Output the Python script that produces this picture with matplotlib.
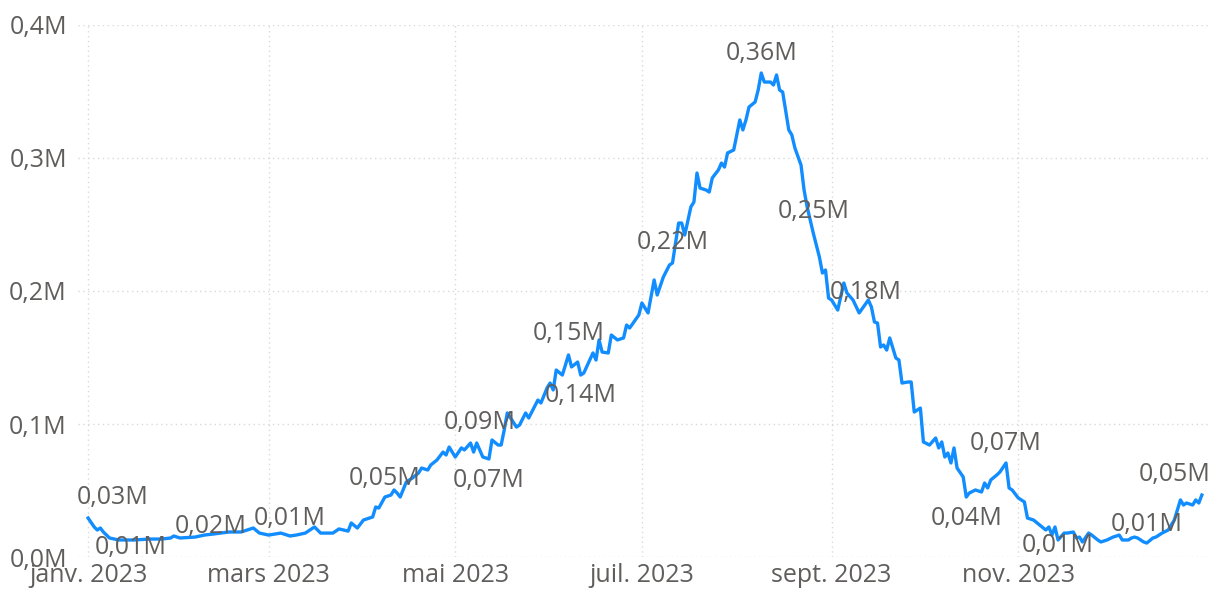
import datetime as dt
import matplotlib
matplotlib.use('Agg')
import matplotlib.pyplot as plt
import matplotlib.dates as mdates

plt.rcParams['font.family'] = ['Open Sans', 'DejaVu Sans']

# days since 1 Jan 2023, values in thousands
day = [0, 2, 3, 4, 5, 7, 10, 15, 20, 24, 27, 28, 30, 35, 38, 41, 46, 50, 54, 56,
       59, 63, 66, 68, 71, 74, 76, 80, 82, 85, 86, 88, 90, 93, 94, 95, 97, 99, 100, 101,
       102, 104, 106, 108, 109, 111, 112, 114, 116, 117, 118, 120, 122, 123, 125, 126, 127, 129, 131, 132,
       134, 135, 136, 137, 140, 141, 143, 144, 147, 148, 150, 151, 152, 153, 155, 157, 158, 160, 161, 162,
       165, 166, 167, 168, 170, 171, 173, 175, 176, 177, 180, 181, 183, 185, 186, 188, 190, 191, 192, 193,
       194, 195, 197, 198, 199, 200, 202, 203, 204, 206, 207, 208, 209, 211, 213, 214, 215, 216, 218, 219,
       220, 221, 223, 224, 225, 226, 227, 229, 230, 231, 233, 234, 235, 237, 239, 240, 241, 242, 243, 245,
       247, 248, 250, 252, 255, 256, 257, 258, 259, 260, 261, 262, 264, 265, 266, 268, 269, 270, 272, 273,
       275, 277, 278, 279, 280, 281, 282, 283, 284, 286, 287, 288, 290, 292, 293, 294, 295, 297, 298, 300,
       301, 302, 304, 306, 307, 309, 311, 313, 314, 315, 316, 317, 319, 320, 322, 323, 324, 325, 327, 328,
       330, 331, 333, 335, 337, 338, 340, 341, 342, 343, 345, 346, 348, 349, 350, 351, 353, 355, 357, 358,
       359, 361, 362, 363, 364]
value_k = [29.3, 22.6, 20.3, 21.8, 18.8, 14.3, 12.8, 12.8, 13.5, 13.5, 14.3, 15.8, 14.3, 15.0, 16.5, 17.3, 18.8, 18.8, 21.8, 18.0,
           16.5, 18.0, 15.8, 16.5, 18.0, 22.6, 18.0, 18.0, 21.1, 19.5, 25.6, 21.8, 27.8, 30.1, 37.6, 36.8, 45.1, 46.6, 50.4, 48.1,
           45.1, 56.4, 59.4, 63.2, 66.9, 65.4, 69.2, 72.9, 78.9, 76.7, 82.7, 75.2, 82.0, 80.5, 85.7, 78.9, 85.7, 75.2, 73.7, 88.0,
           84.2, 84.2, 95.5, 108.3, 97.7, 99.2, 108.3, 104.5, 118.0, 115.8, 127.1, 130.8, 125.6, 140.6, 136.8, 151.9, 142.9, 146.6, 136.8, 138.3,
           153.4, 148.1, 163.2, 154.1, 153.4, 166.9, 163.2, 164.7, 174.4, 172.2, 182.0, 191.0, 183.5, 208.3, 197.0, 210.5, 219.5, 221.1, 236.1, 251.1,
           251.1, 242.1, 263.2, 266.9, 288.7, 277.4, 275.9, 274.4, 285.0, 291.0, 296.2, 293.2, 303.8, 306.0, 328.6, 321.1, 328.6, 338.3, 342.1, 351.1,
           363.9, 357.1, 357.1, 354.9, 362.4, 351.1, 349.6, 321.1, 317.3, 307.5, 294.7, 275.9, 263.2, 243.6, 225.6, 213.5, 215.8, 194.7, 193.2, 185.7,
           206.0, 198.5, 193.2, 183.5, 193.2, 188.0, 176.7, 175.9, 157.9, 159.4, 155.6, 164.7, 149.6, 148.1, 130.8, 131.6, 131.6, 109.0, 112.0, 86.5,
           84.2, 89.5, 82.0, 86.5, 75.2, 78.2, 70.7, 82.0, 66.9, 60.2, 45.1, 48.1, 50.4, 48.9, 55.6, 51.9, 57.9, 61.7, 63.9, 70.7,
           51.9, 50.4, 44.4, 41.4, 29.3, 27.8, 24.1, 20.3, 22.6, 16.5, 22.6, 12.8, 18.0, 18.0, 18.8, 14.3, 15.0, 11.3, 18.0, 16.5,
           12.8, 11.3, 12.8, 15.0, 16.5, 12.8, 12.8, 14.3, 15.0, 14.3, 11.3, 10.5, 14.3, 15.0, 16.5, 18.0, 20.3, 27.8, 42.9, 39.1,
           40.6, 39.1, 42.9, 40.6, 46.6]

# data labels: text, day, height (M) where the label sits
label_text = ['0,03M', '0,01M', '0,02M', '0,01M', '0,05M', '0,09M', '0,07M', '0,15M', '0,14M',
              '0,22M', '0,36M', '0,25M', '0,18M', '0,07M', '0,04M', '0,01M', '0,01M', '0,05M']
label_day = [8, 14, 40, 66, 97, 128, 131, 157, 161, 191, 220, 237, 254, 300, 287, 317, 346, 355]
label_val = [0.0451, 0.0068, 0.0226, 0.0286, 0.0594, 0.1008, 0.0579, 0.1684, 0.1211,
             0.2361, 0.3789, 0.2594, 0.1992, 0.0857, 0.0286, 0.0090, 0.0248, 0.0617]

tick_months = [1, 3, 5, 7, 9, 11]
tick_labels = ['janv. 2023', 'mars 2023', 'mai 2023', 'juil. 2023', 'sept. 2023', 'nov. 2023']
ytick_vals = [0.0, 0.1, 0.2, 0.3, 0.4]
ytick_labels = ['0,0M', '0,1M', '0,2M', '0,3M', '0,4M']

start = dt.datetime(2023, 1, 1)
dates = [start + dt.timedelta(days=d) for d in day]
values = [v / 1000 for v in value_k]

text_col = '#605E5C'
grid_col = '#D9D9D9'

fig = plt.figure(figsize=(12.11, 5.92), dpi=100)
ax = fig.add_axes([0.0644, 0.0591, 0.9331, 0.8987])

ax.plot(dates, values, color='#118DFF', linewidth=2.4, solid_joinstyle='round')

for t, d, v in zip(label_text, label_day, label_val):
    ax.text(start + dt.timedelta(days=d), v, t, ha='center', va='center',
            fontsize=18, color=text_col)

ax.set_ylim(0, 0.4)
ax.set_xlim(start - dt.timedelta(days=3.3), start + dt.timedelta(days=366))
ax.set_yticks(ytick_vals)
ax.set_yticklabels(ytick_labels)
ax.set_xticks([dt.datetime(2023, m, 1) for m in tick_months])
ax.set_xticklabels(tick_labels)

for s in ax.spines.values():
    s.set_visible(False)
ax.tick_params(axis='both', length=0, labelsize=18, labelcolor=text_col)
ax.tick_params(axis='y', pad=8)
ax.tick_params(axis='x', pad=4)
ax.grid(True, color=grid_col, linestyle=(0, (1, 2.5)), linewidth=1)
ax.set_axisbelow(True)

fig.savefig('out.png', dpi=100)
